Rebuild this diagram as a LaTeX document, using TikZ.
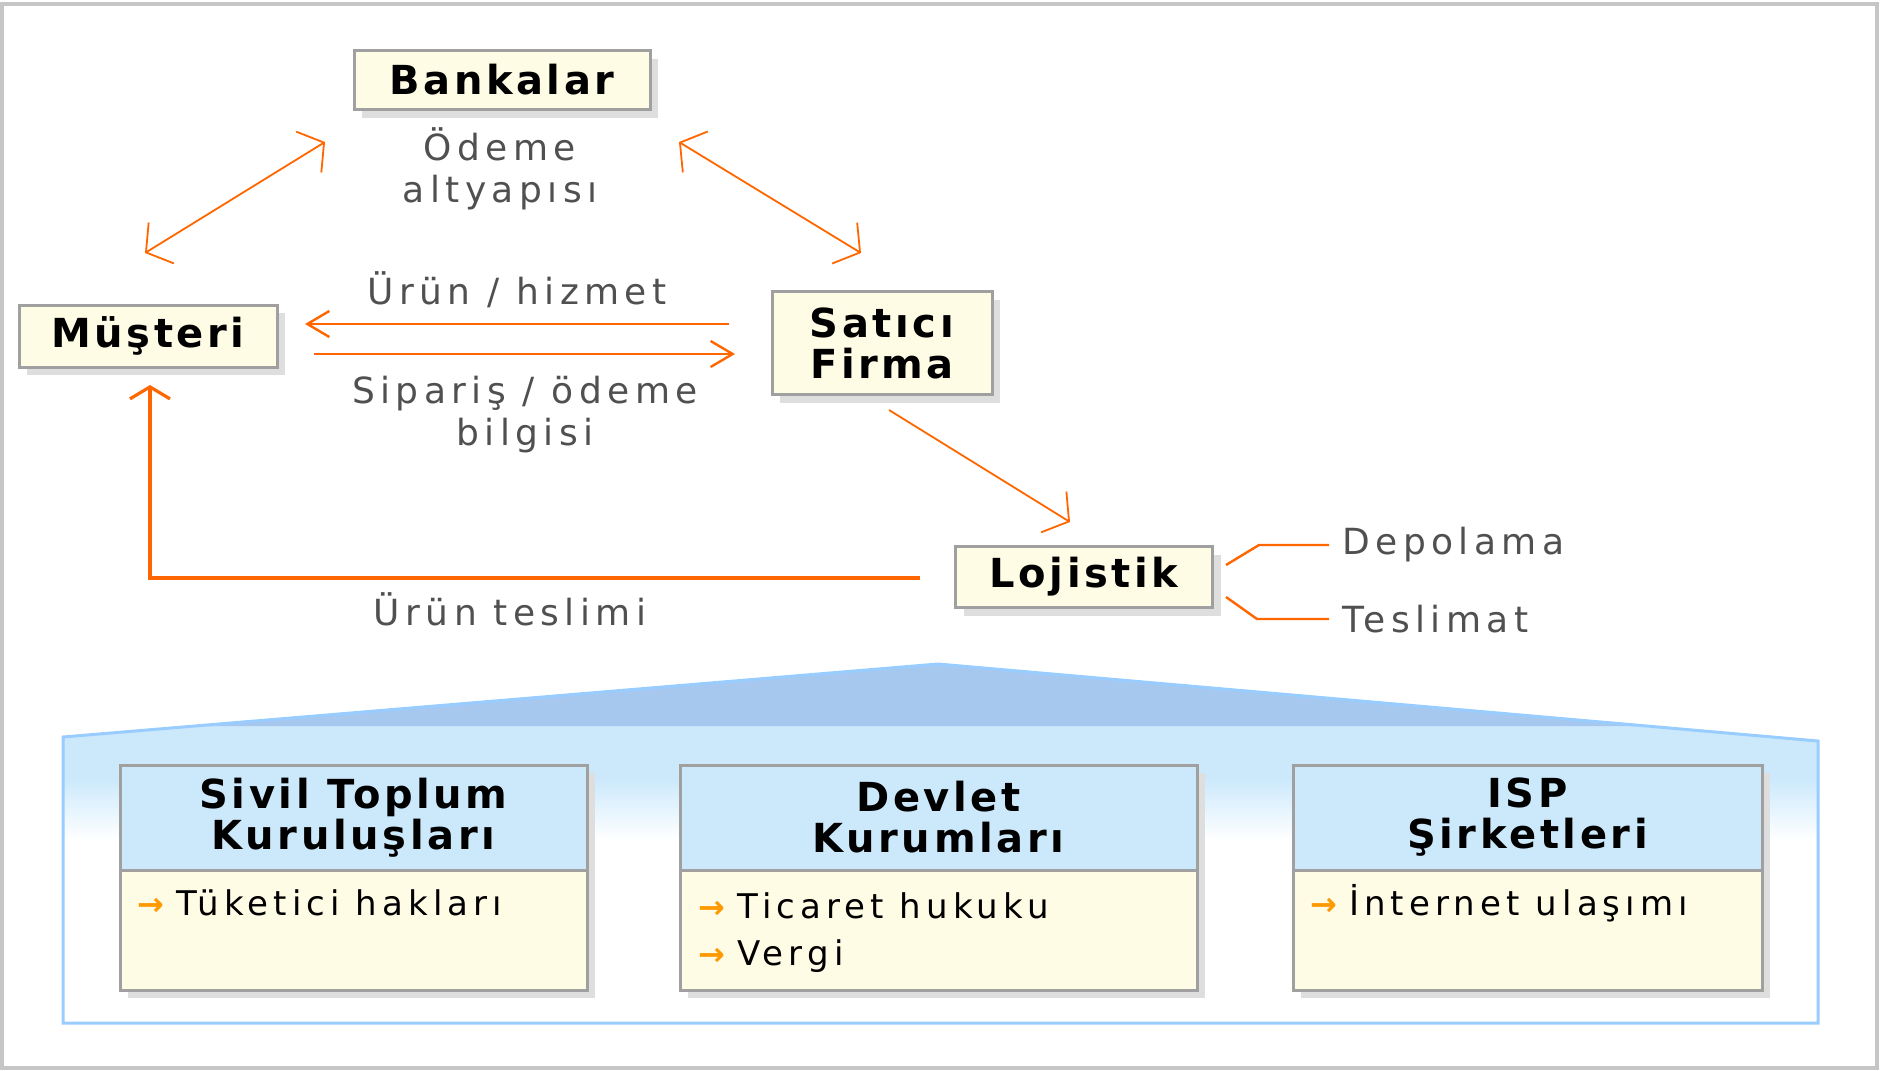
\documentclass[tikz,border=0pt]{standalone}
\usepackage{fontspec}
\setmainfont{DejaVu Sans}
\newfontfamily\kutufont[LetterSpace=9]{DejaVu Sans}
\newfontfamily\yazifont[LetterSpace=15]{DejaVu Sans}
\usetikzlibrary{arrows.meta,shadows}

\definecolor{krem}{HTML}{FFFCE6}
\definecolor{kenar}{HTML}{A0A0A0}
\definecolor{turuncu}{HTML}{FF6600}
\definecolor{gri}{HTML}{505050}
\definecolor{okrengi}{HTML}{FF9900}
\definecolor{catimavi}{HTML}{A6C8EE}
\definecolor{catikenar}{HTML}{99CCFF}
\definecolor{evmavi}{HTML}{CCE9FC}
\definecolor{baslikmavi}{HTML}{CCE8FB}

\newcommand\madok{\textcolor{okrengi}{\fontsize{16}{16}\selectfont\bfseries →}\hspace{6pt}}

\begin{document}
\begin{tikzpicture}[x=0.5pt, y=-0.5pt]
		\tikzset{kutu/.style={draw=kenar, line width=1.5pt, fill=krem, inner sep=0pt, align=center, font=\kutufont\bfseries\fontsize{20}{20.5}\selectfont, drop shadow={shadow xshift=4pt, shadow yshift=-4pt, fill=black!13, opacity=1}}}
		\tikzset{baslik/.style={kutu, fill=baslikmavi}}
		\tikzset{govde/.style={kutu}}
		\tikzset{etiket/.style={text=gri, inner sep=0pt, align=center, font=\yazifont\fontsize{18}{21}\selectfont}}
		\tikzset{madde/.style={anchor=base west, inner sep=0pt, font=\yazifont\fontsize{17}{20}\selectfont}}
		\tikzset{ince/.style={draw=turuncu, line width=0.9pt, {Straight Barb[length=9pt, width=24pt]}-{Straight Barb[length=9pt, width=24pt]}}}
		\tikzset{tekyon/.style={draw=turuncu, line width=0.9pt, -{Straight Barb[length=9pt, width=24pt]}}}
		\tikzset{yatay/.style={draw=turuncu, line width=1.2pt, -{Straight Barb[length=11pt, width=13pt]}}}
		\useasboundingbox (0,0) rectangle (1880,1071);
		\draw[gray!45, line width=2pt] (2,4) rectangle (1877,1068);

		% ev
		\fill[evmavi] (63,737) -- (938,664) -- (1818,741) -- (1818,780) -- (63,780) -- cycle;
		\shade[top color=evmavi, bottom color=white] (63,779) rectangle (1818,840);
		\fill[catimavi] (195,726) -- (938,664) -- (1647,726) -- cycle;
		\draw[catikenar, line width=1.5pt] (63,1023) -- (63,737) -- (938,664) -- (1818,741) -- (1818,1023) -- cycle;

        \node[kutu, minimum width=148pt, minimum height=29.5pt] at (502, 80) (bankalar) {Bankalar};
        \node[kutu, minimum width=129pt, minimum height=31pt] at (148, 336) (musteri) {Müşteri};
        \node[kutu, minimum width=110pt, minimum height=51.5pt] at (882, 343) (satici) {Satıcı\\Firma};
        \node[kutu, minimum width=128.5pt, minimum height=30.5pt] at (1084, 577) (lojistik) {Lojistik};

        \node[etiket] at (500, 169) (odeme) {Ödeme\\altyapısı};
        \node[etiket] at (517, 290) (urun) {Ürün / hizmet};
        \node[etiket] at (525, 415) (siparis) {Sipariş / ödeme\\bilgisi};
        \node[etiket] at (510, 609) (teslimi) {Ürün teslimi};
        \node[etiket, anchor=west, inner xsep=6.5pt] at (1329, 545) (depolama) {Depolama};
        \node[etiket, anchor=west, inner xsep=6.5pt] at (1329, 619) (teslimat) {Teslimat};

        \node[baslik, minimum width=233.5pt, minimum height=52.5pt] at (353.5, 817.5) (stk) {Sivil Toplum\\Kuruluşları};
        \node[govde, minimum width=233.5pt, minimum height=60pt] at (353.5, 930) (stkg) {};
        \node[baslik, minimum width=258.5pt, minimum height=52.5pt] at (938.5, 817.5) (devlet) {Devlet\\Kurumları};
        \node[govde, minimum width=258.5pt, minimum height=60pt] at (938.5, 930) (devletg) {};
        \node[baslik, minimum width=234.5pt, minimum height=52.5pt] at (1527.5, 817.5) (isp) {ISP\\Şirketleri};
        \node[govde, minimum width=234.5pt, minimum height=60pt] at (1527.5, 930) (ispg) {};

        \node[madde] at (137, 915) (tuketici) {\madok Tüketici hakları};
        \node[madde] at (698, 918) (ticaret) {\madok Ticaret hukuku};
        \node[madde] at (698, 965) (vergi) {\madok Vergi};
        \node[madde] at (1310, 915) (internet) {\madok İnternet ulaşımı};

        \coordinate (mb1) at (145, 253);
        \coordinate (mb2) at (325, 142);
        \coordinate (bs1) at (679, 142);
        \coordinate (bs2) at (861, 253);
        \coordinate (sl1) at (889, 410);
        \coordinate (sl2) at (1070, 522);
        \coordinate (sm1) at (729, 324);
        \coordinate (sm2) at (305, 324);
        \coordinate (ms1) at (314, 354);
        \coordinate (ms2) at (735, 354);
        \coordinate (lm1) at (920, 578);
        \coordinate (lm2) at (150, 385);
        \coordinate (ld1) at (1226, 565);
        \coordinate (ld2) at (1259, 545);
        \coordinate (lt1) at (1226, 597);
        \coordinate (lt2) at (1257, 619);

			\draw[ince] (mb1) -- (mb2);
			\draw[ince] (bs1) -- (bs2);
			\draw[tekyon] (sl1) -- (sl2);

			\draw[yatay] (sm1) -- (sm2);
			\draw[yatay] (ms1) -- (ms2);
			\draw[draw=turuncu, line width=1.6pt, -{Straight Barb[length=6pt, width=20pt]}] (lm1) -| (lm2);

			% depolama / teslimat
			\draw[draw=turuncu, line width=1.2pt] (ld1) -- (ld2) -- (depolama.west);
			\draw[draw=turuncu, line width=1.2pt] (lt1) -- (lt2) -- (teslimat.west);

	\end{tikzpicture}
\end{document}
